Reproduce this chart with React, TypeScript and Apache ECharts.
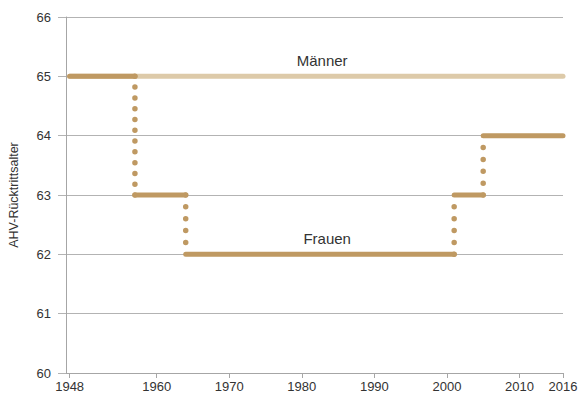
import React, { useEffect, useRef } from "react";
import * as echarts from "echarts";

const xTickYears = [1948, 1960, 1970, 1980, 1990, 2000, 2010, 2016];
const yTicks = [60, 61, 62, 63, 64, 65, 66];

// Rentenalter Männer
const menYears = [1948, 2016];
const menAges = [65, 65];

// Rentenalter Frauen: Stufenwechsel-Jahre und Alter ab diesem Jahr
const womenYears = [1948, 1957, 1964, 2001, 2005, 2016];
const womenAges = [65, 63, 62, 63, 64, 64];

const labelMen = { text: "Männer", year: 1982.8, age: 65 };
const labelWomen = { text: "Frauen", year: 1983.5, age: 62 };

const DARK = "#bf9962";
const LIGHT = "#ddcaa9";
const FONT = "'Liberation Sans', Arial, sans-serif";

export default function App() {
  const ref = useRef<HTMLDivElement>(null);
  useEffect(() => {
    if (!ref.current) return;
    const chart = echarts.init(ref.current, undefined, { renderer: "svg" });
    const gridTop = 17;
    const gridBottom = 23;
    const H = 396;
    const pxPerUnit = (H - gridTop - gridBottom) / (yTicks[yTicks.length - 1] - yTicks[0]);

    const series: any[] = [];
    series.push({
      type: "line",
      data: menYears.map((y, i) => [y, menAges[i]]),
      symbol: "none",
      lineStyle: { color: LIGHT, width: 5, cap: "round" },
      z: 1,
      markPoint: {
        symbol: "circle",
        symbolSize: 0,
        data: [{ coord: [labelMen.year, labelMen.age] }],
        label: {
          show: true,
          formatter: labelMen.text,
          position: "inside",
          offset: [0, -16],
          color: "#333",
          fontSize: 15,
          fontFamily: FONT,
        },
      },
    });
    for (let i = 0; i < womenYears.length - 1; i++) {
      series.push({
        type: "line",
        data: [
          [womenYears[i], womenAges[i]],
          [womenYears[i + 1], womenAges[i]],
        ],
        symbol: "none",
        lineStyle: { color: DARK, width: 5, cap: "round" },
        z: 3,
      });
      if (i + 1 < womenYears.length - 1 && womenAges[i + 1] !== womenAges[i]) {
        const len = Math.abs(womenAges[i + 1] - womenAges[i]) * pxPerUnit;
        const gap = len / Math.round(len / 11);
        series.push({
          type: "line",
          data: [
            [womenYears[i + 1], womenAges[i]],
            [womenYears[i + 1], womenAges[i + 1]],
          ],
          symbol: "none",
          lineStyle: { color: DARK, width: 5.5, cap: "round", type: [0, gap] },
          z: 2,
        });
      }
    }
    series.push({
      type: "line",
      data: [],
      markPoint: {
        symbol: "circle",
        symbolSize: 0,
        data: [{ coord: [labelWomen.year, labelWomen.age] }],
        label: {
          show: true,
          formatter: labelWomen.text,
          position: "inside",
          offset: [0, -16],
          color: "#333",
          fontSize: 15,
          fontFamily: FONT,
        },
      },
    });

    chart.setOption({
      animation: false,
      grid: { left: 66, right: 16, top: gridTop, bottom: gridBottom, containLabel: false, outerBoundsMode: "none" },
      xAxis: {
        type: "value",
        min: 1947.5,
        max: 2016,
        axisLine: { show: true, lineStyle: { color: "#a6a6a6", width: 1 } },
        axisTick: { show: true, customValues: xTickYears, length: 5, lineStyle: { color: "#a6a6a6" } },
        axisLabel: {
          customValues: xTickYears,
          formatter: (v: number) => String(Math.round(v)),
          color: "#333",
          fontSize: 13,
          fontFamily: FONT,
          margin: 7,
          hideOverlap: false,
        },
        splitLine: { show: false },
      },
      yAxis: {
        type: "value",
        min: yTicks[0],
        max: yTicks[yTicks.length - 1],
        interval: 1,
        name: "AHV-Rücktrittsalter",
        nameLocation: "middle",
        nameGap: 46,
        nameTextStyle: { color: "#333", fontSize: 12.5, fontFamily: FONT },
        axisLine: { show: true, lineStyle: { color: "#a6a6a6", width: 1 } },
        axisTick: { show: true, length: 8, lineStyle: { color: "#b3b3b3" } },
        axisLabel: { color: "#333", fontSize: 13, fontFamily: FONT, margin: 15 },
        splitLine: { show: true, lineStyle: { color: "#b3b3b3", width: 1 } },
      },
      series,
    });
    return () => chart.dispose();
  }, []);
  return <div ref={ref} style={{ width: 579, height: 396, position: "absolute", left: 0, top: 0 }} />;
}
